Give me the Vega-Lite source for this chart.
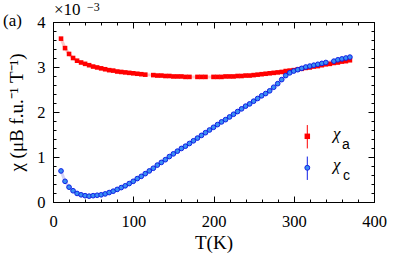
{
  "$schema": "https://vega.github.io/schema/vega-lite/v6.json",
  "width": 321,
  "height": 180,
  "autosize": "none",
  "padding": {"left": 53, "top": 22, "right": 41, "bottom": 58},
  "background": "white",
  "config": {
    "view": {"stroke": null},
    "axis": {
      "labelFont": "Liberation Serif", "labelFontSize": 16.5, "labelColor": "black",
      "titleFont": "Liberation Serif", "titleFontSize": 19, "titleFontWeight": "normal", "titleColor": "black",
      "domainColor": "black", "domainWidth": 1, "tickColor": "black", "tickWidth": 1,
      "grid": false, "labelFlush": false, "labelOverlap": false
    }
  },
  "data": {"values": [
    {"s":"a","T":10,"v":3.63},{"s":"a","T":15,"v":3.42},{"s":"a","T":20,"v":3.29},{"s":"a","T":25,"v":3.20},{"s":"a","T":30,"v":3.14},{"s":"a","T":35,"v":3.10},{"s":"a","T":40,"v":3.07},{"s":"a","T":45,"v":3.04},{"s":"a","T":50,"v":3.01},{"s":"a","T":55,"v":2.99},{"s":"a","T":60,"v":2.97},{"s":"a","T":65,"v":2.95},{"s":"a","T":70,"v":2.93},{"s":"a","T":75,"v":2.92},{"s":"a","T":80,"v":2.90},{"s":"a","T":85,"v":2.89},{"s":"a","T":90,"v":2.88},{"s":"a","T":95,"v":2.87},{"s":"a","T":100,"v":2.86},{"s":"a","T":105,"v":2.85},{"s":"a","T":110,"v":2.84},{"s":"a","T":115,"v":2.83},{"s":"a","T":125,"v":2.82},{"s":"a","T":130,"v":2.81},{"s":"a","T":135,"v":2.81},{"s":"a","T":140,"v":2.80},{"s":"a","T":145,"v":2.80},{"s":"a","T":150,"v":2.79},{"s":"a","T":155,"v":2.79},{"s":"a","T":160,"v":2.79},{"s":"a","T":165,"v":2.78},{"s":"a","T":170,"v":2.78},{"s":"a","T":180,"v":2.78},{"s":"a","T":185,"v":2.78},{"s":"a","T":190,"v":2.78},{"s":"a","T":200,"v":2.78},{"s":"a","T":205,"v":2.78},{"s":"a","T":210,"v":2.78},{"s":"a","T":215,"v":2.79},{"s":"a","T":220,"v":2.79},{"s":"a","T":225,"v":2.79},{"s":"a","T":230,"v":2.80},{"s":"a","T":235,"v":2.80},{"s":"a","T":240,"v":2.81},{"s":"a","T":245,"v":2.81},{"s":"a","T":250,"v":2.82},{"s":"a","T":255,"v":2.83},{"s":"a","T":260,"v":2.84},{"s":"a","T":265,"v":2.85},{"s":"a","T":270,"v":2.86},{"s":"a","T":275,"v":2.87},{"s":"a","T":280,"v":2.88},{"s":"a","T":285,"v":2.89},{"s":"a","T":290,"v":2.91},{"s":"a","T":295,"v":2.92},{"s":"a","T":300,"v":2.93},{"s":"a","T":305,"v":2.95},{"s":"a","T":310,"v":2.96},{"s":"a","T":315,"v":2.98},{"s":"a","T":320,"v":2.99},{"s":"a","T":325,"v":3.01},{"s":"a","T":330,"v":3.02},{"s":"a","T":335,"v":3.04},{"s":"a","T":340,"v":3.06},{"s":"a","T":345,"v":3.07},{"s":"a","T":350,"v":3.09},{"s":"a","T":355,"v":3.10},{"s":"a","T":360,"v":3.12},{"s":"a","T":365,"v":3.13},{"s":"a","T":370,"v":3.15},
    {"s":"c","T":10,"v":0.69},{"s":"c","T":15,"v":0.46},{"s":"c","T":20,"v":0.33},{"s":"c","T":25,"v":0.25},{"s":"c","T":30,"v":0.19},{"s":"c","T":35,"v":0.16},{"s":"c","T":40,"v":0.14},{"s":"c","T":45,"v":0.13},{"s":"c","T":50,"v":0.14},{"s":"c","T":55,"v":0.15},{"s":"c","T":60,"v":0.16},{"s":"c","T":65,"v":0.18},{"s":"c","T":70,"v":0.21},{"s":"c","T":75,"v":0.24},{"s":"c","T":80,"v":0.28},{"s":"c","T":85,"v":0.32},{"s":"c","T":90,"v":0.36},{"s":"c","T":95,"v":0.41},{"s":"c","T":100,"v":0.46},{"s":"c","T":105,"v":0.52},{"s":"c","T":110,"v":0.57},{"s":"c","T":115,"v":0.63},{"s":"c","T":120,"v":0.69},{"s":"c","T":125,"v":0.75},{"s":"c","T":130,"v":0.82},{"s":"c","T":135,"v":0.88},{"s":"c","T":140,"v":0.94},{"s":"c","T":145,"v":1.01},{"s":"c","T":150,"v":1.07},{"s":"c","T":155,"v":1.13},{"s":"c","T":160,"v":1.19},{"s":"c","T":165,"v":1.24},{"s":"c","T":170,"v":1.30},{"s":"c","T":175,"v":1.36},{"s":"c","T":180,"v":1.42},{"s":"c","T":185,"v":1.48},{"s":"c","T":190,"v":1.54},{"s":"c","T":195,"v":1.60},{"s":"c","T":200,"v":1.66},{"s":"c","T":205,"v":1.72},{"s":"c","T":210,"v":1.78},{"s":"c","T":215,"v":1.83},{"s":"c","T":220,"v":1.89},{"s":"c","T":225,"v":1.95},{"s":"c","T":230,"v":2.01},{"s":"c","T":235,"v":2.07},{"s":"c","T":240,"v":2.13},{"s":"c","T":245,"v":2.18},{"s":"c","T":250,"v":2.24},{"s":"c","T":255,"v":2.30},{"s":"c","T":260,"v":2.36},{"s":"c","T":265,"v":2.41},{"s":"c","T":270,"v":2.47},{"s":"c","T":275,"v":2.55},{"s":"c","T":280,"v":2.63},{"s":"c","T":285,"v":2.72},{"s":"c","T":290,"v":2.81},{"s":"c","T":295,"v":2.87},{"s":"c","T":300,"v":2.91},{"s":"c","T":305,"v":2.94},{"s":"c","T":310,"v":2.97},{"s":"c","T":315,"v":3.00},{"s":"c","T":320,"v":3.02},{"s":"c","T":325,"v":3.04},{"s":"c","T":330,"v":3.06},{"s":"c","T":335,"v":3.08},{"s":"c","T":340,"v":3.10},{"s":"c","T":350,"v":3.13},{"s":"c","T":355,"v":3.16},{"s":"c","T":360,"v":3.18},{"s":"c","T":365,"v":3.20},{"s":"c","T":370,"v":3.22}
  ]},
  "resolve": {"axis": {"x": "independent", "y": "independent"}},
  "layer": [
    {
      "transform": [{"filter": "datum.s === 'a'"}],
      "mark": {"type": "line", "color": "#ffc8c8", "strokeWidth": 3},
      "encoding": {
        "x": {"field": "T", "type": "quantitative", "scale": {"domain": [0, 400], "nice": false, "zero": false},
              "axis": {"orient": "bottom", "values": [0, 100, 200, 300, 400], "ticks": false, "labelPadding": 11, "title": "T(K)", "titlePadding": 4}},
        "y": {"field": "v", "type": "quantitative", "scale": {"domain": [0, 4], "nice": false, "zero": false},
              "axis": {"orient": "left", "values": [0, 1, 2, 3, 4], "ticks": false, "labelPadding": 8, "title": "χ  (μB  f.u.⁻¹  T⁻¹)", "titlePadding": 10}}
      }
    },
    {
      "transform": [{"filter": "datum.s === 'c'"}],
      "mark": {"type": "line", "color": "#d2d2f8", "strokeWidth": 3},
      "encoding": {
        "x": {"field": "T", "type": "quantitative", "scale": {"domain": [0, 400], "nice": false, "zero": false},
              "axis": {"orient": "bottom", "values": [0, 100, 200, 300, 400], "labels": false, "domain": false, "tickSize": -6, "title": null}},
        "y": {"field": "v", "type": "quantitative", "scale": {"domain": [0, 4], "nice": false, "zero": false},
              "axis": {"orient": "left", "values": [0, 1, 2, 3, 4], "labels": false, "domain": false, "tickSize": -6, "title": null}}
      }
    },
    {
      "transform": [{"filter": "datum.s === 'a'"}],
      "mark": {"type": "point", "shape": "square", "filled": true, "color": "#ff0000", "size": 21, "opacity": 1},
      "encoding": {
        "x": {"field": "T", "type": "quantitative", "scale": {"domain": [0, 400], "nice": false, "zero": false},
              "axis": {"orient": "bottom", "values": [0,20,40,60,80,100,120,140,160,180,200,220,240,260,280,300,320,340,360,380,400], "labels": false, "domain": false, "tickSize": -3, "title": null}},
        "y": {"field": "v", "type": "quantitative", "scale": {"domain": [0, 4], "nice": false, "zero": false},
              "axis": {"orient": "left", "values": [0,0.2,0.4,0.6,0.8,1,1.2,1.4,1.6,1.8,2,2.2,2.4,2.6,2.8,3,3.2,3.4,3.6,3.8,4], "labels": false, "domain": false, "tickSize": -3, "title": null}}
      }
    },
    {
      "transform": [{"filter": "datum.s === 'c'"}],
      "mark": {"type": "point", "shape": "circle", "filled": true, "fill": "#3a8ff2", "stroke": "#0f1fe6", "strokeWidth": 1, "size": 22, "opacity": 1},
      "encoding": {
        "x": {"field": "T", "type": "quantitative", "scale": {"domain": [0, 400], "nice": false, "zero": false},
              "axis": {"orient": "top", "values": [0, 100, 200, 300, 400], "labels": false, "domain": true, "tickSize": -6, "title": null}},
        "y": {"field": "v", "type": "quantitative", "scale": {"domain": [0, 4], "nice": false, "zero": false},
              "axis": {"orient": "right", "values": [0, 1, 2, 3, 4], "labels": false, "domain": true, "tickSize": -6, "title": null}}
      }
    },
    {
      "data": {"values": [{}]},
      "mark": {"type": "rule", "color": "#ff0000", "strokeWidth": 1},
      "encoding": {
        "x": {"datum": 316.9, "type": "quantitative",
              "axis": {"orient": "top", "values": [0,20,40,60,80,100,120,140,160,180,200,220,240,260,280,300,320,340,360,380,400], "labels": false, "domain": false, "tickSize": -3, "title": null}},
        "y": {"datum": 1.19, "type": "quantitative",
              "axis": {"orient": "right", "values": [0,0.2,0.4,0.6,0.8,1,1.2,1.4,1.6,1.8,2,2.2,2.4,2.6,2.8,3,3.2,3.4,3.6,3.8,4], "labels": false, "domain": false, "tickSize": -3, "title": null}},
        "y2": {"datum": 1.71}
      }
    },
    {
      "data": {"values": [{}]},
      "mark": {"type": "rule", "color": "#0f1fe6", "strokeWidth": 1},
      "encoding": {
        "x": {"datum": 316.9, "type": "quantitative", "axis": null},
        "y": {"datum": 0.49, "type": "quantitative", "axis": null},
        "y2": {"datum": 1.01}
      }
    },
    {
      "data": {"values": [{}]},
      "mark": {"type": "point", "shape": "square", "filled": true, "color": "#ff0000", "size": 30, "opacity": 1},
      "encoding": {
        "x": {"datum": 316.9, "type": "quantitative", "axis": null},
        "y": {"datum": 1.46, "type": "quantitative", "axis": null}
      }
    },
    {
      "data": {"values": [{}]},
      "mark": {"type": "point", "shape": "circle", "filled": true, "fill": "#3a8ff2", "stroke": "#0f1fe6", "strokeWidth": 1, "size": 24, "opacity": 1},
      "encoding": {
        "x": {"datum": 316.9, "type": "quantitative", "axis": null},
        "y": {"datum": 0.76, "type": "quantitative", "axis": null}
      }
    },
    {
      "data": {"values": [{}]},
      "mark": {"type": "text", "text": "χ", "font": "Liberation Serif", "fontStyle": "italic", "fontSize": 17, "align": "left", "baseline": "alphabetic", "color": "black"},
      "encoding": {
        "x": {"datum": 348.9, "type": "quantitative", "axis": null},
        "y": {"datum": 1.40, "type": "quantitative", "axis": null}
      }
    },
    {
      "data": {"values": [{}]},
      "mark": {"type": "text", "text": "χ", "font": "Liberation Serif", "fontStyle": "italic", "fontSize": 17, "align": "left", "baseline": "alphabetic", "color": "black"},
      "encoding": {
        "x": {"datum": 348.9, "type": "quantitative", "axis": null},
        "y": {"datum": 0.71, "type": "quantitative", "axis": null}
      }
    },
    {
      "data": {"values": [{}]},
      "mark": {"type": "text", "text": "a", "font": "Liberation Sans", "fontSize": 14, "align": "left", "baseline": "alphabetic", "color": "black"},
      "encoding": {
        "x": {"datum": 360.1, "type": "quantitative", "axis": null},
        "y": {"datum": 1.18, "type": "quantitative", "axis": null}
      }
    },
    {
      "data": {"values": [{}]},
      "mark": {"type": "text", "text": "c", "font": "Liberation Sans", "fontSize": 14, "align": "left", "baseline": "alphabetic", "color": "black"},
      "encoding": {
        "x": {"datum": 361.4, "type": "quantitative", "axis": null},
        "y": {"datum": 0.49, "type": "quantitative", "axis": null}
      }
    },
    {
      "data": {"values": [{}]},
      "mark": {"type": "text", "text": "×10", "font": "Liberation Serif", "fontSize": 17, "align": "left", "baseline": "alphabetic", "dx": 1, "dy": -7, "color": "black"},
      "encoding": {
        "x": {"datum": 0, "type": "quantitative", "axis": null},
        "y": {"datum": 4, "type": "quantitative", "axis": null}
      }
    },
    {
      "data": {"values": [{}]},
      "mark": {"type": "text", "text": "−3", "font": "Liberation Serif", "fontSize": 12, "align": "left", "baseline": "alphabetic", "dx": 34, "dy": -11, "color": "black"},
      "encoding": {
        "x": {"datum": 0, "type": "quantitative", "axis": null},
        "y": {"datum": 4, "type": "quantitative", "axis": null}
      }
    },
    {
      "data": {"values": [{}]},
      "mark": {"type": "text", "text": "(a)", "font": "Liberation Serif", "fontSize": 17, "align": "left", "baseline": "alphabetic", "dx": -50, "dy": 4, "color": "black"},
      "encoding": {
        "x": {"datum": 0, "type": "quantitative", "axis": null},
        "y": {"datum": 4, "type": "quantitative", "axis": null}
      }
    }
  ]
}
